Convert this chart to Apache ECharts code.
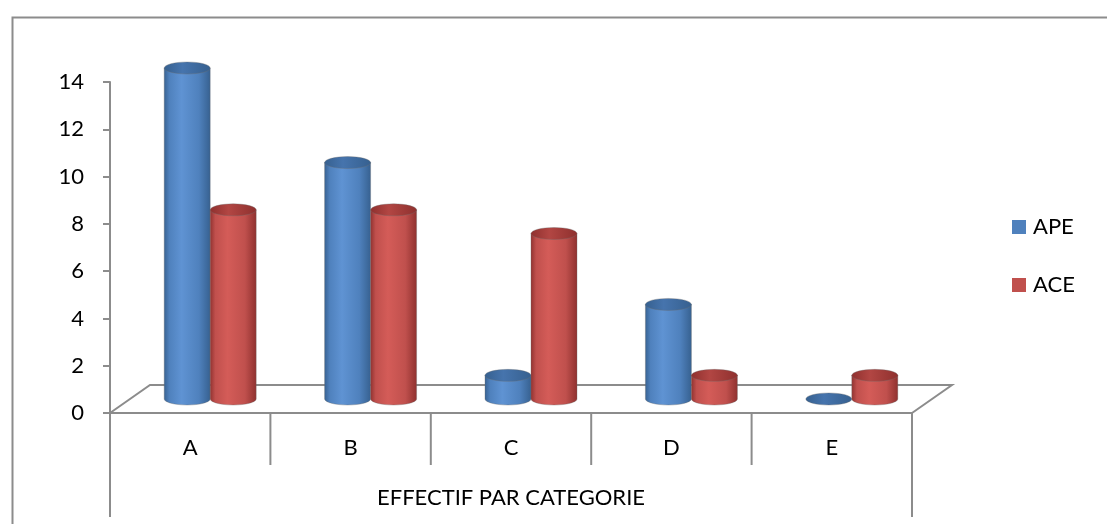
<!DOCTYPE html>
<html>
<head>
<meta charset="utf-8">
<title>Effectif par catégorie</title>
<script src="https://cdn.jsdelivr.net/npm/echarts@6/dist/echarts.min.js"></script>
<style>
  html, body { margin: 0; padding: 0; background: #ffffff; }
  #chart { width: 1107px; height: 524px; }
</style>
</head>
<body>
<div id="chart"></div>
<script>
// Categories and the two series (counts per category)
const categories = ['A', 'B', 'C', 'D', 'E'];
const apeValues = [14, 10, 1, 4, 0];
const aceValues = [8, 8, 7, 1, 1];
const yTicks = [0, 2, 4, 6, 8, 10, 12, 14];
const seriesNames = ['APE', 'ACE'];
const axisTitle = 'EFFECTIF PAR CATEGORIE';

const FONT = 'Lato, "Open Sans", sans-serif';
const FONT_SIZE = 22;
const LINE = '#8c8c8c';

// Pseudo-3D depth of the floor: back edge is shifted right/up from the front edge
const DEPTH_X = 40, DEPTH_Y = -28;
const CYL_W = 46, CYL_RY = 6;

const palette = {
  APE: { base: '#4F81BD', edge: '#36608F', light: '#5F93D3', top: '#4674AD' },
  ACE: { base: '#C0504D', edge: '#8E302E', light: '#D45C58', top: '#B24643' }
};

function bodyFill(p) {
  return {
    type: 'linear', x: 0, y: 0, x2: 1, y2: 0,
    colorStops: [
      { offset: 0, color: p.edge },
      { offset: 0.12, color: p.base },
      { offset: 0.38, color: p.light },
      { offset: 0.75, color: p.base },
      { offset: 1, color: p.edge }
    ]
  };
}

function ellipsePath(cx, cy, rx, ry) {
  return 'M' + (cx - rx) + ',' + cy +
    ' A' + rx + ',' + ry + ' 0 1 0 ' + (cx + rx) + ',' + cy +
    ' A' + rx + ',' + ry + ' 0 1 0 ' + (cx - rx) + ',' + cy + ' Z';
}

// One cylinder per data item; side = -1 (left of centre) or +1 (right)
function cylinderRenderer(name, side) {
  const p = palette[name];
  return function (params, api) {
    const idx = api.value(0);
    const val = api.value(1);
    const base = api.coord([idx, 0]);
    const top = api.coord([idx, val]);
    const cx = base[0] + DEPTH_X / 2 + side * CYL_W / 2;
    const yb = base[1] + DEPTH_Y / 2;
    const yt = top[1] + DEPTH_Y / 2;
    const rx = CYL_W / 2;
    const children = [];
    if (val > 0) {
      const body = 'M' + (cx - rx) + ',' + yt +
        ' L' + (cx - rx) + ',' + yb +
        ' A' + rx + ',' + CYL_RY + ' 0 0 0 ' + (cx + rx) + ',' + yb +
        ' L' + (cx + rx) + ',' + yt + ' Z';
      children.push({
        type: 'path',
        shape: { pathData: body },
        style: { fill: bodyFill(p), stroke: 'rgba(110,110,110,0.35)', lineWidth: 1 }
      });
    }
    children.push({
      type: 'path',
      shape: { pathData: ellipsePath(cx, yt, rx, CYL_RY) },
      style: {
        fill: {
          type: 'linear', x: 0, y: 0, x2: 1, y2: 0,
          colorStops: [
            { offset: 0, color: p.edge },
            { offset: 0.4, color: p.top },
            { offset: 1, color: p.edge }
          ]
        },
        stroke: 'rgba(110,110,110,0.35)', lineWidth: 1
      }
    });
    return { type: 'group', children: children };
  };
}

// Floor outline, category separators and the long outer drop lines
function floorRenderer(params, api) {
  const band = api.size([1, 0])[0];
  const c0 = api.coord([0, 0]);
  const x0 = c0[0] - band / 2;
  const x1 = x0 + band * categories.length;
  const y0 = c0[1];
  const style = { stroke: LINE, lineWidth: 2 };
  const children = [
    { type: 'polyline', shape: { points: [[x0, y0], [x0 + DEPTH_X, y0 + DEPTH_Y], [x1 + DEPTH_X, y0 + DEPTH_Y], [x1, y0]] }, style: Object.assign({ fill: null }, style) },
    { type: 'line', shape: { x1: x0, y1: y0, x2: x0, y2: y0 + 104 }, style: style },
    { type: 'line', shape: { x1: x1, y1: y0, x2: x1, y2: y0 + 104 }, style: style }
  ];
  for (let i = 1; i < categories.length; i++) {
    const x = x0 + band * i;
    children.push({ type: 'line', shape: { x1: x, y1: y0, x2: x, y2: y0 + 52 }, style: style });
  }
  return { type: 'group', children: children, silent: true };
}

const chart = echarts.init(document.getElementById('chart'), null, { renderer: 'canvas' });

chart.setOption({
  animation: false,
  backgroundColor: '#ffffff',
  textStyle: { fontFamily: FONT },
  graphic: [{
    type: 'rect',
    left: 10, top: 15,
    shape: { width: 1110, height: 520 },
    style: { fill: null, stroke: LINE, lineWidth: 2 },
    silent: true, z: -10
  }],
  legend: {
    orient: 'vertical',
    left: 1012, top: 216,
    padding: 0,
    itemWidth: 14, itemHeight: 14,
    itemGap: 36,
    icon: 'rect',
    data: seriesNames,
    textStyle: { fontSize: FONT_SIZE, color: '#000', fontFamily: FONT, padding: [0, 0, 0, 2] }
  },
  grid: { left: 110, right: 195, top: 82, bottom: 111 },
  xAxis: {
    type: 'category',
    data: categories,
    axisLine: { show: true, lineStyle: { color: LINE, width: 2 } },
    axisTick: { show: false },
    axisLabel: { margin: 24, fontSize: FONT_SIZE, color: '#000', fontFamily: FONT },
    name: axisTitle,
    nameLocation: 'middle',
    nameGap: 74,
    nameTextStyle: { fontSize: FONT_SIZE, color: '#000', fontFamily: FONT }
  },
  yAxis: {
    type: 'value',
    min: yTicks[0],
    max: yTicks[yTicks.length - 1],
    interval: 2,
    axisLine: { show: true, lineStyle: { color: LINE, width: 2 } },
    axisTick: { show: true, length: 7, lineStyle: { color: LINE, width: 2 } },
    axisLabel: { margin: 26, fontSize: FONT_SIZE, color: '#000', fontFamily: FONT },
    splitLine: { show: false }
  },
  series: [
    {
      type: 'custom',
      name: 'floor',
      renderItem: floorRenderer,
      data: [[0, 0]],
      z: 1,
      silent: true,
      tooltip: { show: false }
    },
    {
      type: 'custom',
      name: seriesNames[0],
      itemStyle: { color: palette.APE.base },
      renderItem: cylinderRenderer('APE', -1),
      data: apeValues.map((v, i) => [i, v]),
      z: 3
    },
    {
      type: 'custom',
      name: seriesNames[1],
      itemStyle: { color: palette.ACE.base },
      renderItem: cylinderRenderer('ACE', 1),
      data: aceValues.map((v, i) => [i, v]),
      z: 4
    }
  ]
});
</script>
</body>
</html>
